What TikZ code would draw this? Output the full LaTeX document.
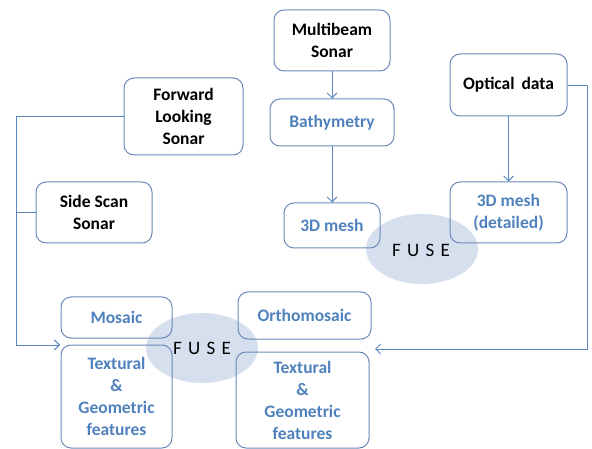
\documentclass[tikz,border=0pt]{standalone}
\usepackage{fontspec}
\setmainfont{Carlito}
\usetikzlibrary{arrows.meta}
\definecolor{txtblue}{HTML}{4F81BD}
\definecolor{boxedge}{HTML}{6A89B9}
\definecolor{linecol}{HTML}{5A86C0}
\definecolor{fusefill}{HTML}{D5DFEE}
\tikzset{
  box/.style={draw=boxedge, line width=1pt, rounded corners=10pt, align=center, inner sep=0pt,
     font=\fontsize{17.5}{22}\selectfont\bfseries},
  srcbox/.style={box, text=black},
  resbox/.style={box, text=txtblue},
  conn/.style={draw=linecol, line width=0.9pt},
  arr/.style={conn, -{Straight Barb[length=5pt,width=10pt]}},
  fuse/.style={fill=fusefill, draw=none},
  fusetxt/.style={font=\fontsize{19}{22}\selectfont, text=black}
}
\begin{document}
\begin{tikzpicture}[x=1pt,y=-1pt]
\useasboundingbox (0,0) rectangle (592,449);
% fuse ellipses (behind boxes)
\fill[fuse] (422,249) ellipse [x radius=56, y radius=35];
\fill[fuse] (202,348) ellipse [x radius=56, y radius=35];
% top-right cluster
\node[srcbox, minimum width=116pt, minimum height=61pt] (mb) at (332,40.5) {Multibeam\\Sonar};
\node[resbox, minimum width=124pt, minimum height=47pt] (bath) at (332,122.5) {Bathymetry};
\node[resbox, minimum width=96pt, minimum height=45pt] (mesh1) at (332,225.5) {3D mesh};
\node[srcbox, minimum width=117pt, minimum height=62pt] (opt) at (508.5,85) {Optical\, data};
\node[resbox, minimum width=117pt, minimum height=61pt] (mesh2) at (508.5,212.5) {3D mesh\\(detailed)};
% left sources
\node[srcbox, minimum width=119pt, minimum height=77pt] (fls) at (183.5,116.5) {Forward\\Looking\\Sonar};
\node[srcbox, minimum width=116pt, minimum height=61pt] (sss) at (94,212.5) {Side Scan\\Sonar};
% bottom results
\node[resbox, minimum width=111pt, minimum height=41pt] (mosaic) at (116.5,317.5) {Mosaic};
\node[resbox, minimum width=111pt, minimum height=103pt] (tex1) at (116.5,396.5) {Textural\\\&\\Geometric\\features};
\node[resbox, minimum width=133pt, minimum height=47pt] (ortho) at (304.5,315.5) {Orthomosaic};
\node[resbox, minimum width=133pt, minimum height=96pt] (tex2) at (302.5,400) {Textural\\\&\\Geometric\\features};
% FUSE labels
\node[fusetxt] (fuse1) at (421,250) {F\,\,U\,\,S\,\,E};
\node[fusetxt] (fuse2) at (202,348) {F\,\,U\,\,S\,\,E};
% connectors
\draw[arr] (mb.south) -- (bath.north);
\draw[arr] (bath.south) -- (mesh1.north);
\draw[arr] (opt.south) -- (mesh2.north);
\coordinate (lin) at (60,345);
\coordinate (rin) at (375,349);
\coordinate (ljoin) at (16,212.5);
\draw[arr] (fls.west) -- (16,116.5) -- (16,345) -- (lin);
\draw[conn] (sss.west) -- (ljoin);
\draw[arr] (opt.east) -- (587,85) -- (587,349) -- (rin);
\end{tikzpicture}
\end{document}
